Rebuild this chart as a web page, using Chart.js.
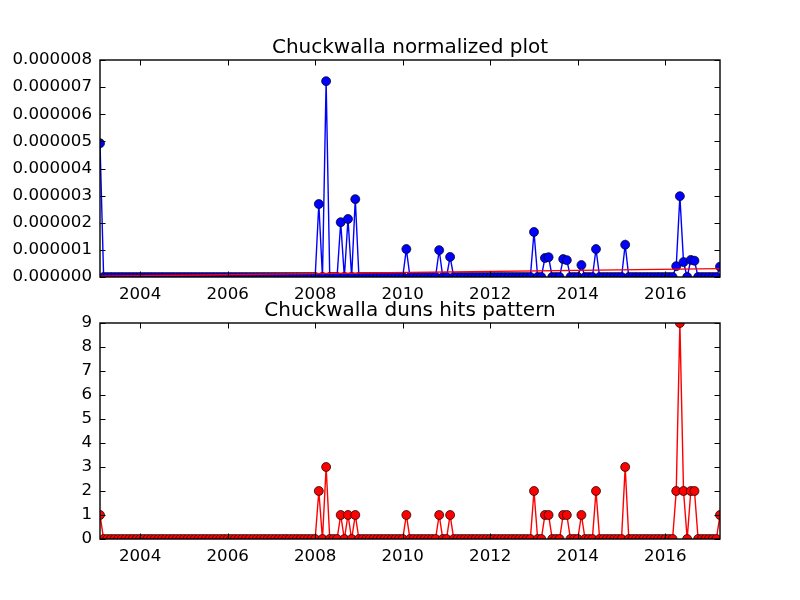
<!DOCTYPE html>
<html>
<head>
<meta charset="utf-8">
<script src="https://cdn.jsdelivr.net/npm/chart.js@4/dist/chart.umd.min.js"></script>
<style>
  body { margin: 0; background: #fff; }
  .stage { position: relative; width: 800px; height: 600px; }
  .stage canvas { position: absolute; left: 0; top: 0; }
</style>
</head>
<body>
<div class="stage">
  <canvas id="normChart" width="800" height="600"></canvas>
  <canvas id="hitsChart" width="800" height="600"></canvas>
</div>
<script>
// monthly samples, Feb 2003 .. Apr 2017
const months = [];
for (let y = 2003; y <= 2017; y++) {
  for (let m = 1; m <= 12; m++) {
    if ((y === 2003 && m < 2) || (y === 2017 && m > 4)) continue;
    months.push(y + (m - 1) / 12);
  }
}

const duns_hits = [
  1, 0, 0, 0, 0, 0, 0, 0, 0, 0, 0,        // 2003 (Feb-Dec)
  0, 0, 0, 0, 0, 0, 0, 0, 0, 0, 0, 0,     // 2004
  0, 0, 0, 0, 0, 0, 0, 0, 0, 0, 0, 0,     // 2005
  0, 0, 0, 0, 0, 0, 0, 0, 0, 0, 0, 0,     // 2006
  0, 0, 0, 0, 0, 0, 0, 0, 0, 0, 0, 0,     // 2007
  0, 2, 0, 3, 0, 0, 0, 1, 0, 1, 0, 1,     // 2008
  0, 0, 0, 0, 0, 0, 0, 0, 0, 0, 0, 0,     // 2009
  0, 1, 0, 0, 0, 0, 0, 0, 0, 0, 1, 0,     // 2010
  0, 1, 0, 0, 0, 0, 0, 0, 0, 0, 0, 0,     // 2011
  0, 0, 0, 0, 0, 0, 0, 0, 0, 0, 0, 0,     // 2012
  2, 0, 0, 1, 1, 0, 0, 0, 1, 1, 0, 0,     // 2013
  0, 1, 0, 0, 0, 2, 0, 0, 0, 0, 0, 0,     // 2014
  0, 3, 0, 0, 0, 0, 0, 0, 0, 0, 0, 0,     // 2015
  0, 0, 0, 2, 9, 2, 0, 2, 2, 0, 0, 0,     // 2016
  0, 0, 0, 1                              // 2017 (Jan-Apr)
];

const normalized = [
  4.93e-6, 0, 0, 0, 0, 0, 0, 0, 0, 0, 0,                                  // 2003
  0, 0, 0, 0, 0, 0, 0, 0, 0, 0, 0, 0,                                     // 2004
  0, 0, 0, 0, 0, 0, 0, 0, 0, 0, 0, 0,                                     // 2005
  0, 0, 0, 0, 0, 0, 0, 0, 0, 0, 0, 0,                                     // 2006
  0, 0, 0, 0, 0, 0, 0, 0, 0, 0, 0, 0,                                     // 2007
  0, 2.69e-6, 0, 7.22e-6, 0, 0, 0, 2.02e-6, 0, 2.14e-6, 0, 2.87e-6,       // 2008
  0, 0, 0, 0, 0, 0, 0, 0, 0, 0, 0, 0,                                     // 2009
  0, 1.03e-6, 0, 0, 0, 0, 0, 0, 0, 0, 0.99e-6, 0,                         // 2010
  0, 0.74e-6, 0, 0, 0, 0, 0, 0, 0, 0, 0, 0,                               // 2011
  0, 0, 0, 0, 0, 0, 0, 0, 0, 0, 0, 0,                                     // 2012
  1.66e-6, 0, 0, 0.70e-6, 0.73e-6, 0, 0, 0, 0.66e-6, 0.62e-6, 0, 0,       // 2013
  0, 0.44e-6, 0, 0, 0, 1.03e-6, 0, 0, 0, 0, 0, 0,                         // 2014
  0, 1.19e-6, 0, 0, 0, 0, 0, 0, 0, 0, 0, 0,                               // 2015
  0, 0, 0, 0.40e-6, 2.98e-6, 0.55e-6, 0, 0.63e-6, 0.60e-6, 0, 0, 0,       // 2016
  0, 0, 0, 0.38e-6                                                        // 2017
];

// fitted trend drawn over the normalized series (first and last month)
const trendEnds = [0.03e-6, 0.31e-6];

const yearTicks = [2004, 2006, 2008, 2010, 2012, 2014, 2016];
const normTicks = [0, 1e-6, 2e-6, 3e-6, 4e-6, 5e-6, 6e-6, 7e-6, 8e-6];
const hitTicks = [0, 1, 2, 3, 4, 5, 6, 7, 8, 9];

Chart.defaults.font.family = '"DejaVu Sans", sans-serif';
Chart.defaults.font.size = 16.67;
Chart.defaults.color = '#000';

// matplotlib-style frame with inward ticks on all four sides, plus a title centred on the plot box
const framePlugin = {
  id: 'frame',
  afterDraw(chart, args, opts) {
    const { ctx, chartArea: a, scales: { x, y } } = chart;
    const len = 5.5;
    ctx.save();
    ctx.strokeStyle = '#000';
    ctx.lineWidth = 1;
    ctx.beginPath();
    x.ticks.forEach((t) => {
      const px = Math.round(x.getPixelForValue(t.value)) + 0.5;
      ctx.moveTo(px, a.bottom); ctx.lineTo(px, a.bottom - len);
      ctx.moveTo(px, a.top); ctx.lineTo(px, a.top + len);
    });
    y.ticks.forEach((t) => {
      const py = Math.round(y.getPixelForValue(t.value)) + 0.5;
      ctx.moveTo(a.left, py); ctx.lineTo(a.left + len, py);
      ctx.moveTo(a.right, py); ctx.lineTo(a.right - len, py);
    });
    ctx.stroke();
    ctx.lineWidth = 1.4;
    ctx.strokeRect(a.left, a.top, a.right - a.left, a.bottom - a.top);
    if (opts.title) {
      ctx.fillStyle = '#000';
      ctx.font = '20px "DejaVu Sans", sans-serif';
      ctx.textAlign = 'center';
      ctx.textBaseline = 'alphabetic';
      ctx.fillText(opts.title, (a.left + a.right) / 2, a.top - 7);
    }
    ctx.restore();
  }
};

function pts(values) {
  return values.map((v, i) => ({ x: months[i], y: v }));
}

function makeChart(canvas, opts) {
  return new Chart(canvas, {
    type: 'line',
    data: { datasets: opts.datasets },
    options: {
      responsive: false,
      animation: false,
      events: [],
      layout: { padding: { left: 0, right: 80, top: opts.topPad, bottom: opts.bottomPad } },
      plugins: {
        legend: { display: false },
        tooltip: { enabled: false },
        title: { display: false },
        frame: { title: opts.title }
      },
      scales: {
        x: {
          type: 'linear',
          min: months[0],
          max: months[months.length - 1],
          grid: { display: false, drawTicks: false },
          border: { display: false },
          afterBuildTicks: (s) => { s.ticks = yearTicks.map((v) => ({ value: v })); },
          afterFit: (s) => { s.height = 40; },
          ticks: { padding: 8, maxRotation: 0, callback: (v) => String(v) }
        },
        y: {
          min: 0,
          max: opts.yMax,
          grid: { display: false, drawTicks: false },
          border: { display: false },
          afterBuildTicks: (s) => { s.ticks = opts.yTicks.map((v) => ({ value: v })); },
          afterFit: (s) => { s.width = 100; },
          ticks: { padding: 8, callback: opts.yLabel }
        }
      }
    },
    plugins: [framePlugin]
  });
}

makeChart(document.getElementById('normChart'), {
  title: 'Chuckwalla normalized plot',
  topPad: 60,
  bottomPad: 283,
  yMax: 8e-6,
  yTicks: normTicks,
  yLabel: (v) => Number(v).toFixed(6),
  datasets: [
    {
      data: [{ x: months[0], y: trendEnds[0] }, { x: months[months.length - 1], y: trendEnds[1] }],
      borderColor: '#ff0000', borderWidth: 1.4, pointRadius: 0, clip: 0
    },
    {
      data: pts(normalized),
      borderColor: '#0000ff', borderWidth: 1.4,
      pointRadius: 4.5, pointBackgroundColor: '#0000ff', pointBorderColor: '#000', pointBorderWidth: 0.7,
      clip: 0
    }
  ]
});

makeChart(document.getElementById('hitsChart'), {
  title: 'Chuckwalla duns hits pattern',
  topPad: 323,
  bottomPad: 21,
  yMax: 9,
  yTicks: hitTicks,
  yLabel: (v) => String(v),
  datasets: [
    {
      data: pts(duns_hits),
      borderColor: '#ff0000', borderWidth: 1.4,
      pointRadius: 4.5, pointBackgroundColor: '#ff0000', pointBorderColor: '#000', pointBorderWidth: 0.7,
      clip: 0
    }
  ]
});
</script>
</body>
</html>
